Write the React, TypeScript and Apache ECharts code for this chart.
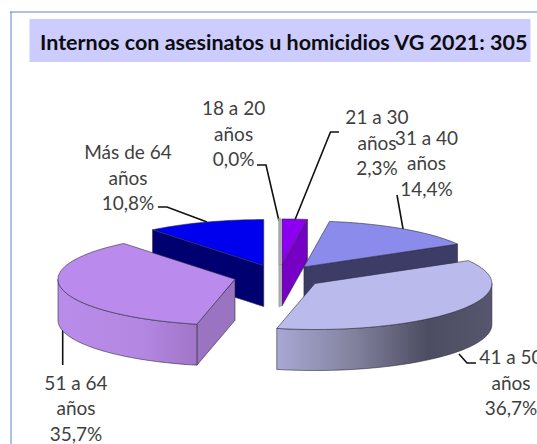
import React, { useEffect, useRef } from "react";
import * as echarts from "echarts";

// ---- data ----
const titleText = "Internos con asesinatos u homicidios VG 2021: 305";
const categories = ["18 a 20 años", "21 a 30 años", "31 a 40 años", "41 a 50 años", "51 a 64 años", "Más de 64 años"];
const shares = [0.0, 2.3, 14.4, 36.7, 35.7, 10.8];

// ---- layout / style, apart from the data ----
const drawOrder = [5, 0, 1, 2, 4, 3];
const geo = { cx: 278.7, cy: 276.6, rx: 177, ry: 46, depth: 41, explode: 44.9 };
const labelPos = [
  [233.6, 133],
  [377, 142],
  [426.5, 162.5],
  [511, 382],
  [76, 407.5],
  [128, 177],
];
const leaders = [
  [[257, 165], [266, 165], [279, 221]],
  [[339, 132], [330.5, 132], [294.5, 221]],
  [[397, 195], [403.4, 231]],
  [[459, 354], [467, 363], [476, 363]],
  [[62.7, 330], [62.7, 365]],
  [[158, 207], [167, 207], [207, 222]],
];
const v = (c: any[]) => new echarts.graphic.LinearGradient(0, 0, 1, 0, c.map(([offset, color]) => ({ offset, color })));
const topColors = ["#b0b0b0", "#8b00ee", "#8b8bec", "#babaed", "#ba8aed", "#0000ee"];
const faceColors = ["#b0b0b0", "#7600c4", "#3c3c66", "#4e4e66", "#9a74c0", "#000070"];
const wallColors: any[] = [
  "#b0b0b0",
  "#7600c4",
  "#3c3c66",
  v([[0, "#a8a8d4"], [0.35, "#83839f"], [0.7, "#4c4c62"], [1, "#56566e"]]),
  v([[0, "#b98cea"], [0.6, "#b487e2"], [1, "#a175c8"]]),
  "#000070",
];
const edge = "rgba(45,45,60,0.75)";
const textFont = "19px Lato, 'Open Sans', sans-serif";

const total = shares.reduce((a, b) => a + b, 0);
const rad = (d: number) => (d * Math.PI) / 180;

function sliceElements(i: number) {
  const { cx, cy, rx, ry, depth, explode } = geo;
  const before = shares.slice(0, i).reduce((a, b) => a + b, 0);
  const a0 = (before / total) * 360;
  const a1 = ((before + shares[i]) / total) * 360;
  const mid = (a0 + a1) / 2;
  const zero = shares[i] === 0;
  const ax = cx + explode * Math.sin(rad(mid)) + (zero ? 1 : 0);
  const ay = cy - explode * (ry / rx) * Math.cos(rad(mid));
  const rim = (d: number, dy = 0) => [ax + rx * Math.sin(rad(d)), ay - ry * Math.cos(rad(d)) + dy];
  const arc = (from: number, to: number, dy = 0) => {
    const n = Math.max(1, Math.ceil(Math.abs(to - from) / 2));
    const pts = [];
    for (let k = 0; k <= n; k++) pts.push(rim(from + ((to - from) * k) / n, dy));
    return pts;
  };
  const base = (drawOrder.indexOf(i) + 1) * 10;
  const sw = zero ? 2.4 : 0.8;
  const sc = zero ? "#a8a8a8" : edge;
  const poly = (points: number[][], fill: any, z: number) => ({
    type: "polygon",
    z2: base + z,
    shape: { points },
    style: { fill, stroke: sc, lineWidth: sw, lineJoin: "round" },
  });
  const out: any[] = [];
  // radial faces turned to the viewer
  if (Math.sin(rad(a0)) < -1e-6 || zero)
    out.push(poly([[ax, ay], rim(a0), rim(a0, depth), [ax, ay + depth]], faceColors[i], 1));
  if (Math.sin(rad(a1)) > 1e-6)
    out.push(poly([[ax, ay], rim(a1), rim(a1, depth), [ax, ay + depth]], faceColors[i], 1));
  // outer wall (front half only)
  const w0 = Math.max(a0, 90);
  const w1 = Math.min(a1, 270);
  if (w1 > w0) {
    const pts = arc(w0, w1).concat(arc(w1, w0, depth));
    out.push(poly(pts, wallColors[i], 2));
  }
  // top face
  out.push(poly([[ax, ay], ...arc(a0, a1)], topColors[i], 3));
  return out;
}

function labelFor(i: number) {
  const name = categories[i].replace(" años", "\naños");
  return `${name}\n${shares[i].toFixed(1).replace(".", ",")}%`;
}

export default function App() {
  const ref = useRef<HTMLDivElement>(null);
  useEffect(() => {
    const chart = echarts.init(ref.current!, undefined, { renderer: "svg" });
    chart.setOption({
      animation: false,
      backgroundColor: "#ffffff",
      title: {
        text: titleText,
        left: 40,
        top: 31,
        padding: 0,
        textStyle: { fontFamily: "Lato, 'Open Sans', sans-serif", fontWeight: "bold", fontSize: 21.5, color: "#0d0d0d" },
      },
      graphic: [
        { type: "rect", z: -1, shape: { x: 29.5, y: 19, width: 501, height: 43 }, style: { fill: "#ccccff" } },
        { type: "line", z: -1, shape: { x1: 11, y1: 12, x2: 11, y2: 444 }, style: { stroke: "#a9c4e4", lineWidth: 2 } },
        { type: "line", z: -1, shape: { x1: 10, y1: 12, x2: 537, y2: 12 }, style: { stroke: "#5b86bd", lineWidth: 1 } },
      ],
      series: [
        {
          type: "custom",
          coordinateSystem: "none",
          silent: true,
          data: shares.map((s, i) => ({ name: categories[i], value: s })),
          renderItem: (params: any) => {
            const i = params.dataIndex;
            const [lx, ly] = labelPos[i];
            return {
              type: "group",
              children: [
                {
                  type: "polyline",
                  z2: 1,
                  shape: { points: leaders[i] },
                  style: { fill: "none", stroke: "#111111", lineWidth: 1.6 },
                },
                ...sliceElements(i),
                {
                  type: "text",
                  z2: 200,
                  style: {
                    text: labelFor(i),
                    x: lx,
                    y: ly,
                    align: "center",
                    verticalAlign: "middle",
                    lineHeight: 25.5,
                    font: textFont,
                    fill: "#3f3f3f",
                  },
                },
              ],
            };
          },
        },
      ],
    });
    return () => chart.dispose();
  }, []);
  return <div ref={ref} style={{ position: "fixed", left: 0, top: 0, width: 537, height: 444 }} />;
}
